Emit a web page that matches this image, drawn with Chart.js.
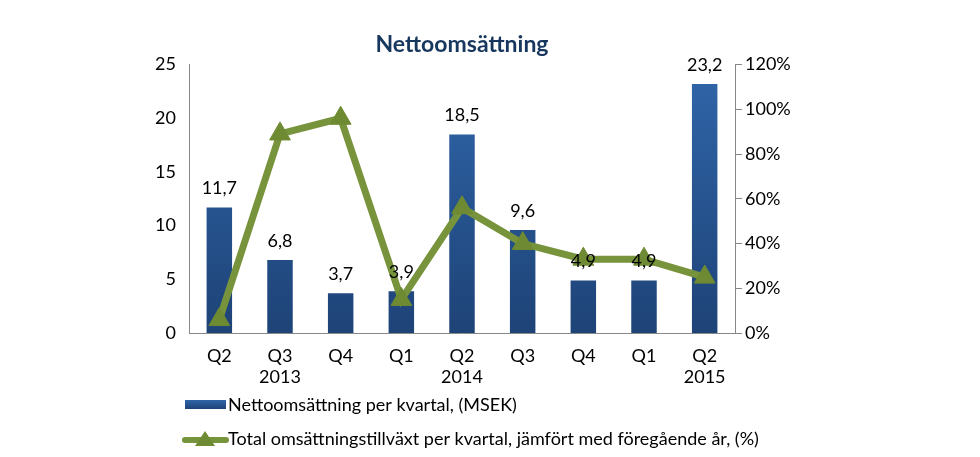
<!DOCTYPE html>
<html>
<head>
<meta charset="utf-8">
<script src="https://cdn.jsdelivr.net/npm/chart.js@4/dist/chart.umd.min.js"></script>
<style>
  html, body { margin: 0; padding: 0; background: #fff; }
  #wrap { width: 980px; height: 457px; }
</style>
</head>
<body>
<div id="wrap"><canvas id="combo"></canvas></div>
<script>
// quarters, with the year shown under Q3 2013, Q2 2014 and Q2 2015
var quarters = ["Q2", "Q3", "Q4", "Q1", "Q2", "Q3", "Q4", "Q1", "Q2"];
var years = ["", "2013", "", "", "2014", "", "", "", "2015"];
var netSales = [11.7, 6.8, 3.7, 3.9, 18.5, 9.6, 4.9, 4.9, 23.2];
var growthPct = [6, 89, 96, 15, 56, 40, 33, 33, 25];
var leftTicks = [0, 5, 10, 15, 20, 25];
var rightTicks = [0, 20, 40, 60, 80, 100, 120];

var FONT = "Lato, 'Noto Sans', sans-serif";
var BLUE = "#2A5C9C";
var GREEN = "#77933C";

function barGradient(context) {
    var area = context.chart.chartArea;
    if (!area) return BLUE;
    var g = context.chart.ctx.createLinearGradient(0, area.top, 0, area.bottom);
    g.addColorStop(0, "#3066AA");
    g.addColorStop(1, "#1E4377");
    return g;
}

// value labels above the bars, with a decimal comma
var barLabels = {
    id: "barLabels",
    afterDatasetsDraw: function (chart) {
        var ctx = chart.ctx;
        var meta = chart.getDatasetMeta(0);
        ctx.save();
        ctx.font = "18px " + FONT;
        ctx.fillStyle = "#000";
        ctx.textAlign = "center";
        ctx.textBaseline = "middle";
        meta.data.forEach(function (bar, i) {
            ctx.fillText(String(netSales[i]).replace(".", ","), bar.x, bar.y - 19);
        });
        ctx.restore();
    }
};

// legend stacked in two rows under the axis
var stackedLegend = {
    id: "stackedLegend",
    afterDraw: function (chart) {
        var ctx = chart.ctx;
        ctx.save();
        ctx.font = "18px " + FONT;
        ctx.textBaseline = "middle";
        // bar entry
        var g = ctx.createLinearGradient(0, 400, 0, 409);
        g.addColorStop(0, "#3066AA");
        g.addColorStop(1, "#1E4377");
        ctx.fillStyle = g;
        ctx.fillRect(185, 400, 41, 9);
        ctx.fillStyle = "#000";
        ctx.fillText(chart.data.datasets[0].label, 228, 405);
        // line entry
        ctx.strokeStyle = GREEN;
        ctx.lineWidth = 6;
        ctx.lineCap = "round";
        ctx.beginPath();
        ctx.moveTo(185, 440);
        ctx.lineTo(226, 440);
        ctx.stroke();
        ctx.fillStyle = "#6E8A33";
        ctx.beginPath();
        ctx.moveTo(205, 431);
        ctx.lineTo(215, 446);
        ctx.lineTo(195, 446);
        ctx.closePath();
        ctx.fill();
        ctx.fillStyle = "#000";
        ctx.fillText(chart.data.datasets[1].label, 228, 439);
        ctx.restore();
    }
};

var ctx = document.getElementById("combo").getContext("2d");
var chart = new Chart(ctx, {
    data: {
        labels: quarters.map(function (q, i) { return [q, years[i]]; }),
        datasets: [{
            type: "bar",
            label: "Nettoomsättning per kvartal, (MSEK)",
            data: netSales,
            yAxisID: "y",
            backgroundColor: barGradient,
            categoryPercentage: 1,
            barPercentage: 0.42,
            order: 2
        }, {
            type: "line",
            label: "Total omsättningstillväxt per kvartal, jämfört med föregående år, (%)",
            data: growthPct,
            yAxisID: "y1",
            borderColor: GREEN,
            borderWidth: 7,
            pointStyle: "triangle",
            pointRadius: 12,
            pointBackgroundColor: "#6E8A33",
            pointBorderColor: "#6E8A33",
            pointBorderWidth: 1,
            tension: 0,
            order: 1
        }]
    },
    options: {
        responsive: true,
        maintainAspectRatio: false,
        animation: false,
        layout: { padding: { left: 0, right: 0, top: 0, bottom: 0 } },
        plugins: {
            legend: { display: false },
            tooltip: { enabled: false },
            title: {
                display: true,
                fullSize: false,
                text: "Nettoomsättning",
                color: "#17375E",
                font: { family: FONT, size: 23, weight: "bold" },
                padding: { top: 31, bottom: 6 }
            }
        },
        scales: {
            x: {
                grid: { display: false, drawTicks: false },
                border: { display: true, color: "#888", width: 1 },
                ticks: {
                    color: "#000",
                    font: { family: FONT, size: 18 },
                    padding: 12,
                    maxRotation: 0,
                    autoSkip: false
                },
                afterFit: function (scale) { scale.height = 124; }
            },
            y: {
                position: "left",
                min: 0,
                max: 25,
                afterBuildTicks: function (scale) {
                    scale.ticks = leftTicks.map(function (v) { return { value: v }; });
                },
                grid: { display: false, drawTicks: false },
                border: { display: true, color: "#888", width: 1 },
                ticks: {
                    color: "#000",
                    font: { family: FONT, size: 18 },
                    padding: 13
                },
                afterFit: function (scale) { scale.width = 189; }
            },
            y1: {
                position: "right",
                min: 0,
                max: 120,
                afterBuildTicks: function (scale) {
                    scale.ticks = rightTicks.map(function (v) { return { value: v }; });
                },
                grid: {
                    display: true,
                    drawOnChartArea: false,
                    drawTicks: true,
                    tickLength: 7,
                    color: "#888"
                },
                border: { display: true, color: "#888", width: 1 },
                ticks: {
                    color: "#000",
                    font: { family: FONT, size: 18 },
                    padding: 3,
                    callback: function (v) { return v + "%"; }
                },
                afterFit: function (scale) { scale.width = 245; }
            }
        }
    },
    plugins: [barLabels, stackedLegend]
});
</script>
</body>
</html>
